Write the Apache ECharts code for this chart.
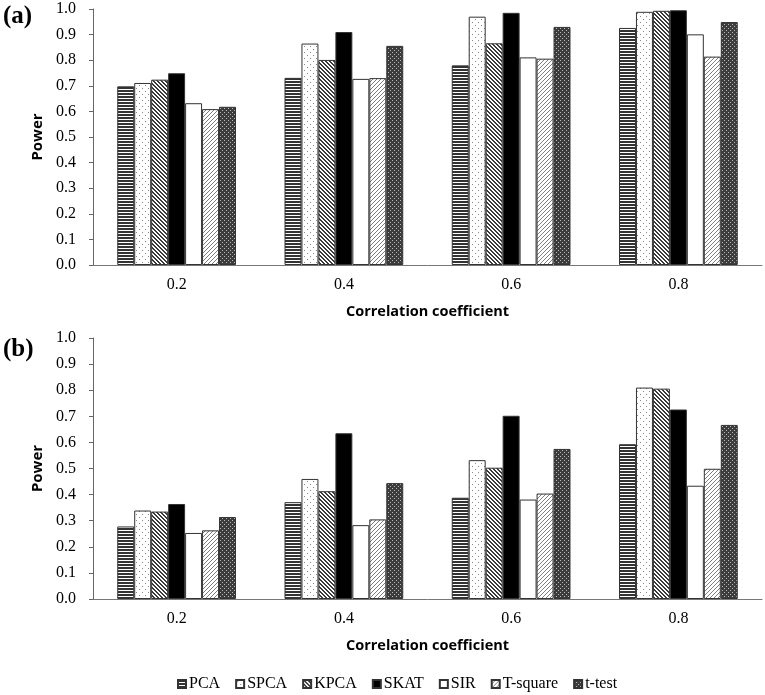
<!DOCTYPE html>
<html><head><meta charset="utf-8">
<script src="https://cdn.jsdelivr.net/npm/echarts@6/dist/echarts.min.js"></script>
<style>html,body{margin:0;padding:0;background:#fff}#c{width:765px;height:695px}</style>
</head><body><div id="c"></div>
<script>
const categories = ['0.2','0.4','0.6','0.8'];
const seriesNames = ['PCA','SPCA','KPCA','SKAT','SIR','T-square','t-test'];
const yTicks = [0,0.1,0.2,0.3,0.4,0.5,0.6,0.7,0.8,0.9,1.0];
// panel (a)
const a_PCA = [0.698, 0.731, 0.780, 0.926];
const a_SPCA = [0.711, 0.865, 0.970, 0.989];
const a_KPCA = [0.724, 0.801, 0.866, 0.993];
const a_SKAT = [0.749, 0.910, 0.985, 0.995];
const a_SIR = [0.632, 0.727, 0.811, 0.901];
const a_Tsquare = [0.609, 0.730, 0.806, 0.814];
const a_ttest = [0.618, 0.856, 0.930, 0.949];
// panel (b)
const b_PCA = [0.278, 0.371, 0.388, 0.593];
const b_SPCA = [0.339, 0.460, 0.532, 0.810];
const b_KPCA = [0.335, 0.413, 0.503, 0.806];
const b_SKAT = [0.364, 0.635, 0.702, 0.726];
const b_SIR = [0.253, 0.283, 0.381, 0.434];
const b_Tsquare = [0.263, 0.305, 0.404, 0.499];
const b_ttest = [0.314, 0.444, 0.575, 0.667];

function mk(w,h,draw){const c=document.createElement('canvas');c.width=w;c.height=h;const g=c.getContext('2d');g.fillStyle='#fff';g.fillRect(0,0,w,h);draw(g);return {image:c,repeat:'repeat'};}
const pat = {
  'PCA': mk(4,3,g=>{g.fillStyle='#333';g.fillRect(0,0,4,2);}),
  'SPCA': mk(6,6,g=>{g.fillStyle='#888';g.fillRect(1,1,1,1);g.fillRect(4,4,1,1);}),
  'KPCA': mk(4,4,g=>{g.fillStyle='#3a3a3a';for(let i=0;i<4;i++){g.fillRect(i,i,1,1);g.fillRect((i+1)%4,i,1,1);}}),
  'SKAT': '#000',
  'SIR': '#fff',
  'T-square': mk(4,4,g=>{g.fillStyle='#808080';for(let i=0;i<4;i++){g.fillRect(3-i,i,1,1);}}),
  't-test': mk(4,4,g=>{g.fillStyle='#3c3c3c';g.fillRect(0,0,4,4);g.fillStyle='#bbb';g.fillRect(0,0,1,1);g.fillRect(2,2,1,1);})
};
const dataA = [a_PCA,a_SPCA,a_KPCA,a_SKAT,a_SIR,a_Tsquare,a_ttest];
const dataB = [b_PCA,b_SPCA,b_KPCA,b_SKAT,b_SIR,b_Tsquare,b_ttest];

const serif = "'Liberation Serif','Times New Roman',serif";
const sans = "'Open Sans','Liberation Sans',sans-serif";
function xAx(i){return {type:'category',gridIndex:i,data:categories,
  axisLine:{lineStyle:{color:'#777',width:1}},axisTick:{show:false},
  axisLabel:{fontFamily:serif,fontSize:16,color:'#000',margin:12},
  name:'Correlation coefficient',nameLocation:'middle',nameGap:39,
  nameTextStyle:{fontFamily:sans,fontWeight:'bold',fontSize:14.5,color:'#000'}};}
function yAx(i){return {type:'value',gridIndex:i,min:0,max:1,interval:0.1,
  axisLine:{show:true,lineStyle:{color:'#666',width:1}},
  axisTick:{show:true,length:4,lineStyle:{color:'#666'}},
  splitLine:{show:false},
  axisLabel:{fontFamily:serif,fontSize:16,color:'#000',margin:17,formatter:v=>v.toFixed(1)},
  name:'Power',nameLocation:'middle',nameGap:46,nameRotate:90,
  nameTextStyle:{fontFamily:sans,fontWeight:'bold',fontSize:15,color:'#000'}};}
const series=[];
seriesNames.forEach((n,k)=>{
  [dataA,dataB].forEach((D,i)=>{
    series.push({type:'bar',name:n,xAxisIndex:i,yAxisIndex:i,data:D[k],
      barGap:'0%',barCategoryGap:'29%',
      itemStyle:{color:pat[n],borderColor:'#333',borderWidth:1}});
  });
});
const chart=echarts.init(document.getElementById('c'),null,{renderer:'canvas'});
chart.setOption({
  animation:false,
  backgroundColor:'#fff',
  grid:[{left:93,right:3,top:9,height:256},{left:93,right:3,top:338,height:261}],
  xAxis:[xAx(0),xAx(1)],
  yAxis:[yAx(0),yAx(1)],
  title:[{text:'(a)',left:3,top:4,padding:0,textStyle:{fontFamily:serif,fontWeight:'bold',fontSize:25,color:'#000'}},
         {text:'(b)',left:3,top:337,padding:0,textStyle:{fontFamily:serif,fontWeight:'bold',fontSize:25,color:'#000'}}],
  legend:{data:seriesNames,left:177,top:676,padding:0,itemWidth:8,itemHeight:8,itemGap:15,
    textStyle:{fontFamily:serif,fontSize:16,color:'#000',padding:[0,0,0,-2]},icon:'rect'},
  series:series
});
</script></body></html>
